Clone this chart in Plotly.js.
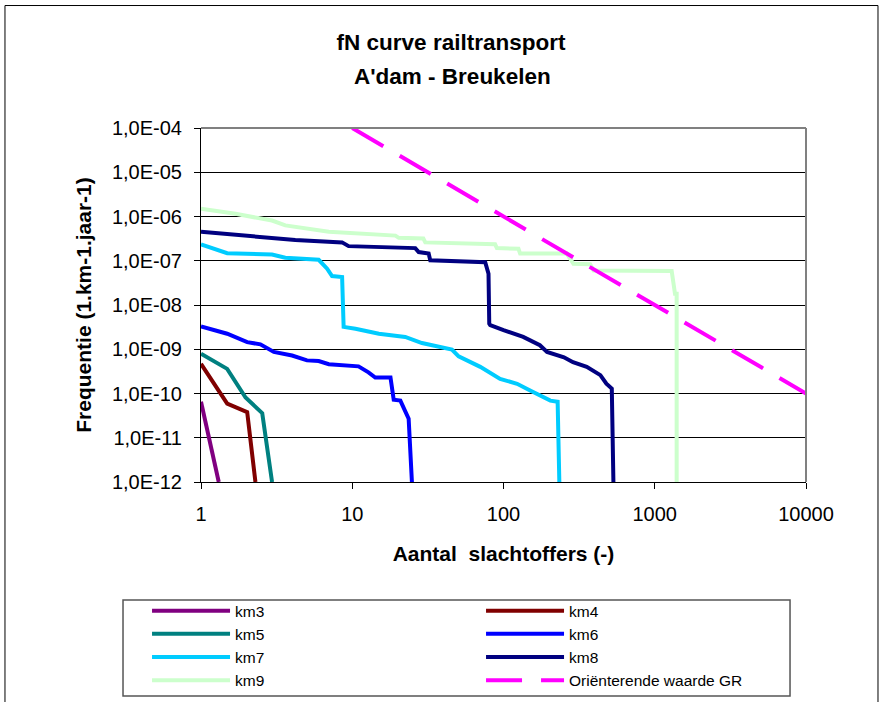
<!DOCTYPE html>
<html>
<head>
<meta charset="utf-8">
<script src="https://cdn.plot.ly/plotly-3.0.1.min.js"></script>
<style>html,body{margin:0;padding:0;background:#fff;}#chart{width:883px;height:702px;}</style>
</head>
<body>
<div id="chart"></div>
<script>
// ---- data ----
var seriesNames = ["km3", "km4", "km5", "km6", "km7", "km8", "km9", "Oriënterende waarde GR"];
var seriesColors = ["#800080", "#800000", "#008080", "#0000FF", "#00CCFF", "#000080", "#CCFFCC", "#FF00FF"];

var km3N = [1, 1.31];
var km3F = [6.5e-11, 1e-12];

var km4N = [1, 1.49, 2.02, 2.29];
var km4F = [4.7e-10, 5.9e-11, 3.8e-11, 1e-12];

var km5N = [1, 1.49, 1.97, 2.54, 2.95];
var km5F = [7.9e-10, 3.6e-10, 8.1e-11, 3.6e-11, 1e-12];

var km6N = [1, 1.49, 2.02, 2.47, 3.03, 4.0, 5.02, 6.0, 7.0, 11.0, 12.8, 14.2, 17.9, 18.8, 20.8, 21.9, 23.6, 24.8];
var km6F = [3.3e-9, 2.24e-9, 1.45e-9, 1.29e-9, 8.7e-10, 7.2e-10, 5.6e-10, 5.4e-10, 4.6e-10, 4.1e-10, 3.0e-10, 2.3e-10, 2.3e-10, 7.2e-11, 6.9e-11, 4.9e-11, 2.7e-11, 1e-12];

var km7N = [1, 1.49, 2.95, 3.61, 6.0, 6.82, 7.35, 8.57, 8.77, 10.5, 15, 22.4, 28.9, 37.2, 45.6, 50.5, 61.7, 70.2, 95, 123, 150, 174, 204, 228, 234];
var km7F = [2.35e-7, 1.48e-7, 1.38e-7, 1.17e-7, 1.05e-7, 6.6e-8, 4.5e-8, 4.3e-8, 3.2e-9, 2.9e-9, 2.24e-9, 1.9e-9, 1.38e-9, 1.12e-9, 9.8e-10, 6.9e-10, 5.1e-10, 4.0e-10, 2.14e-10, 1.66e-10, 1.17e-10, 9.1e-11, 6.9e-11, 6.5e-11, 1e-12];

var km8N = [1, 1.97, 2.54, 4.2, 8.57, 9.46, 26.1, 27.5, 32, 32.8, 75.7, 79.6, 80.5, 81.7, 100, 135, 174, 194, 251, 288, 355, 437, 479, 520, 533];
var km8F = [4.5e-7, 3.7e-7, 3.3e-7, 2.95e-7, 2.6e-7, 2.14e-7, 1.93e-7, 1.57e-7, 1.45e-7, 1.02e-7, 9.3e-8, 5.1e-8, 3.8e-9, 3.5e-9, 2.7e-9, 1.9e-9, 1.23e-9, 8.7e-10, 6.6e-10, 5.1e-10, 4.0e-10, 2.6e-10, 1.66e-10, 1.29e-10, 1e-12];

var km9N = [1, 1.69, 2.95, 3.61, 7.0, 19.3, 20.3, 29.5, 30.4, 88, 90.4, 125.6, 128.8, 262, 290, 374, 394, 1294, 1361, 1396, 1396];
var km9F = [1.5e-6, 1.15e-6, 8.1e-7, 6.3e-7, 4.5e-7, 3.7e-7, 3.3e-7, 3.2e-7, 2.6e-7, 2.35e-7, 1.93e-7, 1.86e-7, 1.45e-7, 1.45e-7, 8.5e-8, 8.3e-8, 6.0e-8, 5.9e-8, 1.8e-8, 1.8e-8, 1e-12];

var grN = [10, 100, 1000, 10000];
var grF = [1e-4, 1e-6, 1e-8, 1e-10];

var xTickVals = [1, 10, 100, 1000, 10000];
var xTickText = ["1", "10", "100", "1000", "10000"];
var yTickVals = [1e-12, 1e-11, 1e-10, 1e-9, 1e-8, 1e-7, 1e-6, 1e-5, 1e-4];
var yTickText = ["1,0E-12", "1,0E-11", "1,0E-10", "1,0E-09", "1,0E-08", "1,0E-07", "1,0E-06", "1,0E-05", "1,0E-04"];

var titleLine1 = "fN curve railtransport";
var titleLine2 = "A'dam - Breukelen";
var xTitle = "Aantal\u00a0 slachtoffers (-)";
var yTitle = "Frequentie (1.km-1.jaar-1)";

// ---- traces ----
var xs = [km3N, km4N, km5N, km6N, km7N, km8N, km9N, grN];
var ys = [km3F, km4F, km5F, km6F, km7F, km8F, km9F, grF];
var traces = xs.map(function (x, i) {
  return {
    type: "scatter",
    mode: "lines",
    x: x,
    y: ys[i],
    name: seriesNames[i],
    line: {
      color: seriesColors[i],
      width: 4,
      dash: i === 7 ? "36px,19px" : "solid"
    },
    hoverinfo: "x+y+name"
  };
});

var FONT = "Liberation Sans, Arial, sans-serif";

var layout = {
  width: 883,
  height: 702,
  paper_bgcolor: "#ffffff",
  plot_bgcolor: "#ffffff",
  font: { family: FONT, color: "#000000", size: 20 },
  margin: { l: 201, r: 77, t: 128, b: 220, autoexpand: false },
  title: {
    text: "<b>" + titleLine1 + "</b>",
    font: { family: FONT, size: 22.5, color: "#000" },
    xref: "container", yref: "container",
    x: 451 / 883, xanchor: "center",
    y: 1 - 42.5 / 702, yanchor: "middle"
  },
  showlegend: true,
  legend: {
    orientation: "h",
    xref: "paper", yref: "paper",
    x: -0.0892, xanchor: "left",
    y: -0.3167, yanchor: "top",
    entrywidth: 241, entrywidthmode: "pixels",
    itemwidth: 78,
    font: { family: FONT, size: 15.5, color: "#000" },
    bgcolor: "rgba(0,0,0,0)",
    borderwidth: 0,
    traceorder: "normal"
  },
  xaxis: {
    type: "log",
    range: [0, 4],
    tickmode: "array",
    tickvals: xTickVals,
    ticktext: xTickText,
    ticks: "outside",
    ticklen: 6,
    tickwidth: 1,
    tickcolor: "#000",
    showline: true,
    linecolor: "#000",
    linewidth: 1,
    showgrid: false,
    zeroline: false,
    tickfont: { family: FONT, size: 20, color: "#000" },
    ticklabelstandoff: 8,
    title: { text: "<b>" + xTitle + "</b>", font: { family: FONT, size: 21, color: "#000" }, standoff: 22 }
  },
  yaxis: {
    type: "log",
    range: [-12, -4],
    tickmode: "array",
    tickvals: yTickVals,
    ticktext: yTickText,
    ticks: "outside",
    ticklen: 6,
    tickwidth: 1,
    tickcolor: "#000",
    showline: true,
    linecolor: "#000",
    linewidth: 1,
    showgrid: true,
    gridcolor: "#000",
    gridwidth: 1,
    zeroline: false,
    tickfont: { family: FONT, size: 20, color: "#000" },
    ticklabelstandoff: 8,
    title: { text: "<b>" + yTitle + "</b>", font: { family: FONT, size: 21, color: "#000" }, standoff: 14 }
  },
  annotations: [
    {
      text: "<b>" + titleLine2 + "</b>",
      xref: "paper", yref: "paper",
      x: 0.4149, y: (482 - 76) / 354,
      xanchor: "center", yanchor: "middle",
      showarrow: false,
      font: { family: FONT, size: 22.5, color: "#000" }
    }
  ],
  shapes: [
    // outer chart border
    { type: "rect", xref: "paper", yref: "paper", x0: -0.324, x1: 1.119, y0: -0.70, y1: 1.346,
      line: { color: "#000", width: 1 }, fillcolor: "rgba(0,0,0,0)", layer: "below" },
    // plot area border (top and right, grey)
    { type: "line", xref: "paper", yref: "paper", x0: 0, x1: 1, y0: 1, y1: 1,
      line: { color: "#808080", width: 2 }, layer: "above" },
    { type: "line", xref: "paper", yref: "paper", x0: 1, x1: 1, y0: 0, y1: 1,
      line: { color: "#808080", width: 2 }, layer: "above" },
    // legend frame
    { type: "rect", xref: "paper", yref: "paper", x0: -0.1289, x1: 0.9736, y0: -0.6045, y1: -0.3333,
      line: { color: "#555", width: 1.5 }, fillcolor: "rgba(0,0,0,0)", layer: "below" }
  ]
};

Plotly.newPlot("chart", traces, layout, { displayModeBar: false, staticPlot: true });
</script>
</body>
</html>
